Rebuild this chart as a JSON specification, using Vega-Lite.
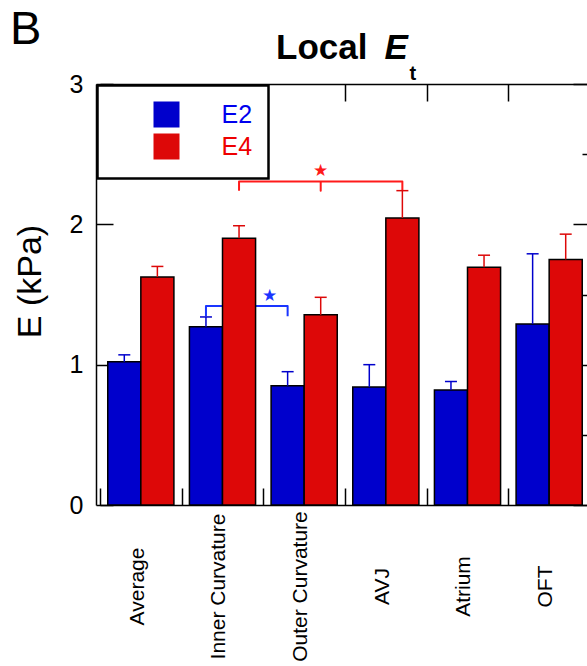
{
  "$schema": "https://vega.github.io/schema/vega-lite/v6.json",
  "autosize": {"type": "none"},
  "padding": {"left": 96, "top": 84, "right": 0, "bottom": 161},
  "width": 491,
  "height": 421,
  "background": "white",
  "title": {"text": "B", "anchor": "start", "frame": "group", "fontSize": 47, "fontWeight": "normal", "font": "Liberation Sans", "color": "black", "dx": -86, "offset": -60, "baseline": "alphabetic"},
  "datasets": {
    "bars": [
      {"region": "Average", "series": "E2", "value": 1.02, "upper": 1.07},
      {"region": "Average", "series": "E4", "value": 1.625, "upper": 1.70},
      {"region": "Inner Curvature", "series": "E2", "value": 1.27, "upper": 1.34},
      {"region": "Inner Curvature", "series": "E4", "value": 1.90, "upper": 1.99},
      {"region": "Outer Curvature", "series": "E2", "value": 0.85, "upper": 0.95},
      {"region": "Outer Curvature", "series": "E4", "value": 1.355, "upper": 1.48},
      {"region": "AVJ", "series": "E2", "value": 0.84, "upper": 1.00},
      {"region": "AVJ", "series": "E4", "value": 2.045, "upper": 2.24},
      {"region": "Atrium", "series": "E2", "value": 0.82, "upper": 0.88},
      {"region": "Atrium", "series": "E4", "value": 1.695, "upper": 1.78},
      {"region": "OFT", "series": "E2", "value": 1.29, "upper": 1.79},
      {"region": "OFT", "series": "E4", "value": 1.75, "upper": 1.93}
    ],
    "brackets": [
      {"series": "E2", "region": "Inner Curvature", "y": 1.345, "step": 1},
      {"series": "E2", "region": "Inner Curvature", "y": 1.418, "step": 2},
      {"series": "E2", "region": "Outer Curvature", "y": 1.418, "step": 3},
      {"series": "E2", "region": "Outer Curvature", "y": 1.345, "step": 4},
      {"series": "E4", "region": "Inner Curvature", "y": 2.24, "step": 1},
      {"series": "E4", "region": "Inner Curvature", "y": 2.305, "step": 2},
      {"series": "E4", "region": "Outer Curvature", "y": 2.305, "step": 3},
      {"series": "E4", "region": "Outer Curvature", "y": 2.24, "step": 4},
      {"series": "E4", "region": "Outer Curvature", "y": 2.305, "step": 5},
      {"series": "E4", "region": "AVJ", "y": 2.305, "step": 6},
      {"series": "E4", "region": "AVJ", "y": 2.24, "step": 7}
    ],
    "stars": [
      {"series": "E2", "region": "Outer Curvature", "y": 1.49},
      {"series": "E4", "region": "Outer Curvature", "y": 2.38}
    ]
  },
  "layer": [
    {
      "data": {"name": "brackets"},
      "transform": [{"filter": "datum.series === 'E2'"}],
      "mark": {"type": "line", "color": "#1a35ff", "strokeWidth": 2, "strokeJoin": "round"},
      "encoding": {
        "x": {"field": "region", "type": "nominal", "scale": {"domain": ["Average", "Inner Curvature", "Outer Curvature", "AVJ", "Atrium", "OFT"], "range": [4, 494], "paddingInner": 0.19, "paddingOuter": 0.095}, "axis": null},
        "xOffset": {"field": "series", "type": "nominal", "scale": {"domain": ["E2", "E4"], "paddingInner": 0, "paddingOuter": 0}},
        "y": {"field": "y", "type": "quantitative", "scale": {"domain": [0, 3], "nice": false}, "axis": null},
        "order": {"field": "step", "type": "quantitative"}
      }
    },
    {
      "data": {"name": "brackets"},
      "transform": [{"filter": "datum.series === 'E4'"}],
      "mark": {"type": "line", "color": "#ff1a1a", "strokeWidth": 2, "strokeJoin": "round"},
      "encoding": {
        "x": {"field": "region", "type": "nominal", "scale": {"domain": ["Average", "Inner Curvature", "Outer Curvature", "AVJ", "Atrium", "OFT"], "range": [4, 494], "paddingInner": 0.19, "paddingOuter": 0.095}, "axis": null},
        "xOffset": {"field": "series", "type": "nominal", "scale": {"domain": ["E2", "E4"], "paddingInner": 0, "paddingOuter": 0}},
        "y": {"field": "y", "type": "quantitative", "scale": {"domain": [0, 3], "nice": false}, "axis": null},
        "order": {"field": "step", "type": "quantitative"}
      }
    },
    {
      "data": {"name": "bars"},
      "mark": {"type": "bar", "stroke": "black", "strokeWidth": 1.5, "opacity": 1},
      "encoding": {
        "x": {"field": "region", "type": "nominal", "scale": {"domain": ["Average", "Inner Curvature", "Outer Curvature", "AVJ", "Atrium", "OFT"], "range": [4, 494], "paddingInner": 0.19, "paddingOuter": 0.095},
          "axis": {"orient": "bottom", "title": "t", "titleFontSize": 20, "titleFontWeight": "bold", "titleX": 313, "titleY": -426, "titleAlign": "left", "titleBaseline": "alphabetic", "titleAngle": 0,
            "labelAngle": -90, "labelAlign": "center", "labelBaseline": "middle", "labelPadding": 98, "labelFontSize": 21, "labelOffset": 37, "labelLimit": 300, "labelOverlap": false,
            "tickSize": -17, "tickOffset": -40.83, "domain": true}},
        "xOffset": {"field": "series", "type": "nominal", "scale": {"domain": ["E2", "E4"], "paddingInner": 0, "paddingOuter": 0}},
        "y": {"field": "value", "type": "quantitative", "scale": {"domain": [0, 3], "nice": false},
          "axis": {"orient": "left", "values": [0, 0.5, 1, 1.5, 2, 2.5, 3], "format": "d", "labelExpr": "datum.value % 1 === 0 ? datum.label : ''",
            "tickSize": {"condition": {"test": "datum.value % 1 === 0", "value": -17}, "value": -9},
            "labelPadding": 30, "labelFontSize": 25, "labelFlush": false, "labelBound": false,
            "title": "E (kPa)", "titleFontSize": 34, "titleFontWeight": "normal", "titleAngle": 270, "titleX": -56, "titleY": 197, "titleAlign": "center", "titleBaseline": "alphabetic", "domain": true}},
        "color": {"field": "series", "type": "nominal", "scale": {"domain": ["E2", "E4"], "range": ["#0000CC", "#DD0808"]},
          "legend": {"orient": "none", "legendX": 1.5, "legendY": 1.5, "title": null, "symbolType": "square", "symbolSize": 576, "symbolStrokeColor": "black", "symbolStrokeWidth": 2, "symbolOpacity": 1,
            "symbolOffset": 40, "labelOffset": 42, "labelFontSize": 25, "labelFont": "Liberation Sans", "rowPadding": 0, "padding": 16, "fillColor": "white", "strokeColor": "black",
            "encode": {"labels": {"update": {"fill": {"signal": "datum.value === 'E2' ? '#0000EE' : '#EE0000'"}}}, "legend": {"update": {"strokeWidth": {"value": 2.5}}}}}}
      }
    },
    {
      "data": {"name": "bars"},
      "mark": {"type": "rule", "strokeWidth": 1.5},
      "encoding": {
        "x": {"field": "region", "type": "nominal", "scale": {"domain": ["Average", "Inner Curvature", "Outer Curvature", "AVJ", "Atrium", "OFT"], "range": [4, 494], "paddingInner": 0.19, "paddingOuter": 0.095},
          "axis": {"orient": "top", "labels": false, "tickSize": -17, "tickOffset": -40.83, "domain": true,
            "title": "Local", "titleFontSize": 35, "titleFontWeight": "bold", "titleX": 179.5, "titleY": -25.5, "titleAlign": "left", "titleBaseline": "alphabetic", "titleAngle": 0}},
        "xOffset": {"field": "series", "type": "nominal", "scale": {"domain": ["E2", "E4"], "paddingInner": 0, "paddingOuter": 0}},
        "y": {"field": "value", "type": "quantitative", "scale": {"domain": [0, 3], "nice": false},
          "axis": {"orient": "right", "values": [0, 0.5, 1, 1.5, 2, 2.5, 3], "labels": false, "domain": false,
            "tickSize": {"condition": {"test": "datum.value % 1 === 0", "value": -14}, "value": -5},
            "title": "E", "titleFontSize": 35, "titleFontWeight": "bold", "titleFontStyle": "italic", "titleAngle": 0, "titleX": -203, "titleY": -25.5, "titleAlign": "left", "titleBaseline": "alphabetic"}},
        "y2": {"field": "upper"},
        "stroke": {"field": "series", "type": "nominal", "scale": {"domain": ["E2", "E4"], "range": ["#0000CC", "#DD0808"]}, "legend": null}
      }
    },
    {
      "data": {"name": "bars"},
      "mark": {"type": "point", "shape": "stroke", "size": 144, "strokeWidth": 1.5, "filled": false, "opacity": 1},
      "encoding": {
        "x": {"field": "region", "type": "nominal", "scale": {"domain": ["Average", "Inner Curvature", "Outer Curvature", "AVJ", "Atrium", "OFT"], "range": [4, 494], "paddingInner": 0.19, "paddingOuter": 0.095}, "axis": null},
        "xOffset": {"field": "series", "type": "nominal", "scale": {"domain": ["E2", "E4"], "paddingInner": 0, "paddingOuter": 0}},
        "y": {"field": "upper", "type": "quantitative", "scale": {"domain": [0, 3], "nice": false}, "axis": null},
        "stroke": {"field": "series", "type": "nominal", "scale": {"domain": ["E2", "E4"], "range": ["#0000CC", "#DD0808"]}, "legend": null}
      }
    },
    {
      "data": {"name": "stars"},
      "transform": [{"filter": "datum.series === 'E2'"}],
      "mark": {"type": "text", "text": "★", "font": "DejaVu Sans", "fontSize": 17, "color": "#1a35ff", "dx": -18, "baseline": "middle", "align": "center"},
      "encoding": {
        "x": {"field": "region", "type": "nominal", "scale": {"domain": ["Average", "Inner Curvature", "Outer Curvature", "AVJ", "Atrium", "OFT"], "range": [4, 494], "paddingInner": 0.19, "paddingOuter": 0.095}, "axis": null},
        "xOffset": {"field": "series", "type": "nominal", "scale": {"domain": ["E2", "E4"], "paddingInner": 0, "paddingOuter": 0}},
        "y": {"field": "y", "type": "quantitative", "scale": {"domain": [0, 3], "nice": false}, "axis": null}
      }
    },
    {
      "data": {"name": "stars"},
      "transform": [{"filter": "datum.series === 'E4'"}],
      "mark": {"type": "text", "text": "★", "font": "DejaVu Sans", "fontSize": 17, "color": "#ff1a1a", "baseline": "middle", "align": "center"},
      "encoding": {
        "x": {"field": "region", "type": "nominal", "scale": {"domain": ["Average", "Inner Curvature", "Outer Curvature", "AVJ", "Atrium", "OFT"], "range": [4, 494], "paddingInner": 0.19, "paddingOuter": 0.095}, "axis": null},
        "xOffset": {"field": "series", "type": "nominal", "scale": {"domain": ["E2", "E4"], "paddingInner": 0, "paddingOuter": 0}},
        "y": {"field": "y", "type": "quantitative", "scale": {"domain": [0, 3], "nice": false}, "axis": null}
      }
    }
  ],
  "resolve": {"axis": {"x": "independent", "y": "independent"}},
  "config": {
    "font": "Liberation Sans",
    "view": {"stroke": null},
    "axis": {"grid": false, "domainColor": "black", "domainWidth": 1.5, "tickColor": "black", "tickWidth": 1.5, "labelFont": "Liberation Sans", "titleFont": "Liberation Sans", "labelColor": "black", "titleColor": "black"}
  }
}
